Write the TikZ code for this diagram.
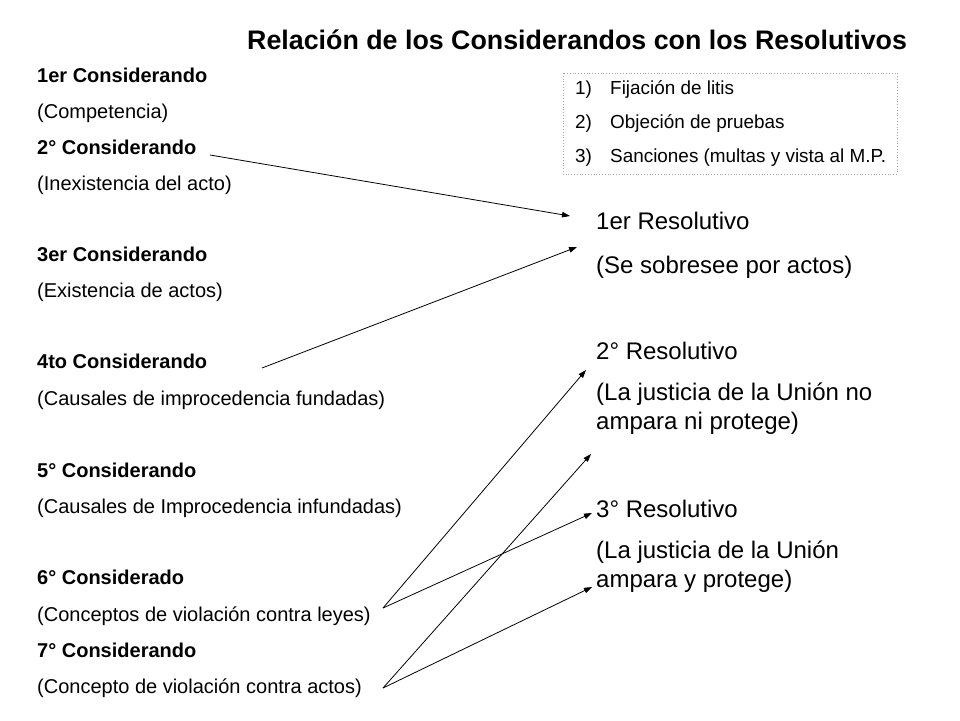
\documentclass[tikz,border=0pt]{standalone}
\usepackage{fontspec}
\setmainfont{Liberation Sans}
\usetikzlibrary{arrows.meta}
\begin{document}
\begin{tikzpicture}[x=1pt,y=-1pt,
  txt/.style={inner sep=0pt,anchor=base west},
  lhead/.style={txt,font=\fontsize{20}{24}\selectfont\bfseries},
  ltext/.style={txt,font=\fontsize{20}{24}\selectfont},
  rtext/.style={txt,font=\fontsize{24}{29}\selectfont},
  btext/.style={txt,font=\fontsize{18.9}{22}\selectfont},
  title/.style={txt,font=\fontsize{26.8}{30}\selectfont\bfseries},
  conn/.style={draw=black,line width=0.8pt,-{Triangle[length=8pt,width=5.5pt]}}
]
\useasboundingbox (0,0) rectangle (960,720);
\fill[white] (0,0) rectangle (960,720);

\node[title] (title) at (247,49) {Relación de los Considerandos con los Resolutivos};

% left column
\node[lhead] (c1) at (37,82) {1er Considerando};
\node[ltext] (c1t) at (37,118) {(Competencia)};
\node[lhead] (c2) at (37,154) {2° Considerando};
\node[ltext] (c2t) at (37,190) {(Inexistencia del acto)};
\node[lhead] (c3) at (37,261) {3er Considerando};
\node[ltext] (c3t) at (37,297) {(Existencia de actos)};
\node[lhead] (c4) at (37,368) {4to Considerando};
\node[ltext] (c4t) at (37,405) {(Causales de improcedencia fundadas)};
\node[lhead] (c5) at (37,477) {5° Considerando};
\node[ltext] (c5t) at (37,513) {(Causales de Improcedencia infundadas)};
\node[lhead] (c6) at (37,584) {6° Considerado};
\node[ltext] (c6t) at (37,621) {(Conceptos de violación contra leyes)};
\node[lhead] (c7) at (37,657) {7° Considerando};
\node[ltext] (c7t) at (37,693) {(Concepto de violación contra actos)};

% right column
\node[rtext] (r1) at (596,229) {1er Resolutivo};
\node[rtext] (r1t) at (596,273) {(Se sobresee por actos)};
\node[rtext] (r2) at (596,359) {2° Resolutivo};
\node[rtext] (r2t) at (596,400) {(La justicia de la Unión no};
\node[rtext] (r2u) at (596,429) {ampara ni protege)};
\node[rtext] (r3) at (596,517) {3° Resolutivo};
\node[rtext] (r3t) at (596,558) {(La justicia de la Unión};
\node[rtext] (r3u) at (596,587) {ampara y protege)};

% box
\draw[gray!70,dotted,line width=0.8pt] (563,73) rectangle (897,174);
\node[btext] (n1) at (575,94) {1)};
\node[btext] (b1) at (610,94) {Fijación de litis};
\node[btext] (n2) at (575,128) {2)};
\node[btext] (b2) at (610,128) {Objeción de pruebas};
\node[btext] (n3) at (575,162) {3)};
\node[btext] (b3) at (610,162) {Sanciones (multas y vista al M.P.};

% connector ends
\coordinate (s2) at (210,155);
\coordinate (s4) at (262,368);
\coordinate (s6) at (383,608);
\coordinate (s7) at (383,688);
\coordinate (e1a) at (570,216);
\coordinate (e1b) at (577,247);
\coordinate (e2a) at (586,370);
\coordinate (e2b) at (591,454);
\coordinate (e3a) at (592,513);
\coordinate (e3b) at (592,587);

\draw[conn] (s2) -- (e1a);
\draw[conn] (s4) -- (e1b);
\draw[conn] (s6) -- (e2a);
\draw[conn] (s6) -- (e3a);
\draw[conn] (s7) -- (e2b);
\draw[conn] (s7) -- (e3b);
\end{tikzpicture}
\end{document}
